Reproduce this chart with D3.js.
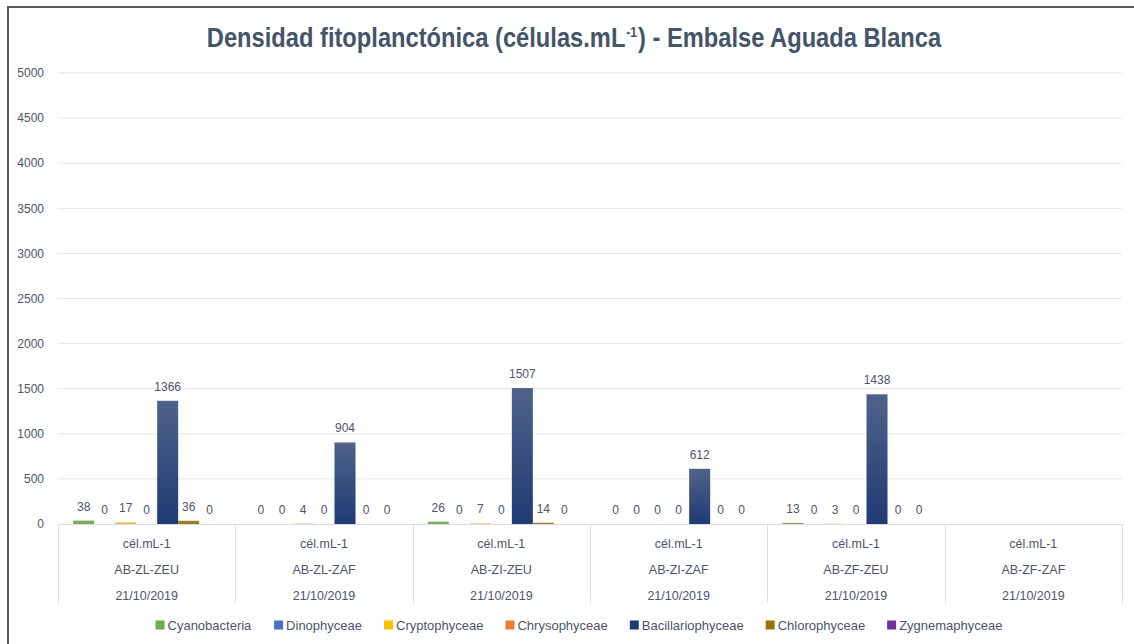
<!DOCTYPE html>
<html>
<head>
<meta charset="utf-8">
<script src="https://cdn.jsdelivr.net/npm/d3@7"></script>
<style>
  html, body { margin: 0; padding: 0; background: #fff; }
  text { font-family: "Liberation Sans Narrow", "Arial Narrow", "Liberation Sans", Arial, sans-serif; }
</style>
</head>
<body>
<div id="chart"></div>
<script>
// sites (x categories)
const sites = ["AB-ZL-ZEU", "AB-ZL-ZAF", "AB-ZI-ZEU", "AB-ZI-ZAF", "AB-ZF-ZEU", "AB-ZF-ZAF"];
const unitLabel = "cél.mL-1";
const sampleDate = "21/10/2019";

// series (phytoplankton groups)
const groups = ["Cyanobacteria", "Dinophyceae", "Cryptophyceae", "Chrysophyceae", "Bacillariophyceae", "Chlorophyceae", "Zygnemaphyceae"];
const groupColors = ["#70ad47", "#4472c4", "#ffc000", "#ed7d31", "#1f3b73", "#997300", "#7030a0"];

// values per series, one per site (null = no data)
const cyanobacteria     = [38, 0, 26, 0, 13, null];
const dinophyceae       = [0, 0, 0, 0, 0, null];
const cryptophyceae     = [17, 4, 7, 0, 3, null];
const chrysophyceae     = [0, 0, 0, 0, 0, null];
const bacillariophyceae = [1366, 904, 1507, 612, 1438, null];
const chlorophyceae     = [36, 0, 14, 0, 0, null];
const zygnemaphyceae    = [0, 0, 0, 0, 0, null];

const seriesValues = [cyanobacteria, dinophyceae, cryptophyceae, chrysophyceae, bacillariophyceae, chlorophyceae, zygnemaphyceae];
const yTicks = [0, 500, 1000, 1500, 2000, 2500, 3000, 3500, 4000, 4500, 5000];

const width = 1134, height = 644;
const plot = { left: 58, right: 1122, top: 73, bottom: 524 };
const textColor = "#4d5566";

const svg = d3.select("#chart").append("svg")
    .attr("width", width)
    .attr("height", height);

// outer frame
svg.append("rect")
    .attr("x", 8).attr("y", 7)
    .attr("width", 1140).attr("height", 700)
    .attr("fill", "none")
    .attr("stroke", "#595959")
    .attr("stroke-width", 2);

// title, squeezed horizontally to mimic the narrow bold face
const titleG = svg.append("g");
const title = titleG.append("text")
    .attr("x", 0)
    .attr("y", 47)
    .attr("text-anchor", "middle")
    .attr("font-size", "27px")
    .attr("font-weight", "bold")
    .attr("fill", "#44546a");
title.append("tspan").text("Densidad fitoplanctónica (células.mL");
title.append("tspan").attr("dy", -10).attr("dx", 1).attr("font-size", "14px").text("-1");
title.append("tspan").attr("dy", 10).attr("dx", 1).text(") - Embalse Aguada Blanca");
const squeeze = 733 / title.node().getComputedTextLength();
titleG.attr("transform", `translate(574,0) scale(${squeeze},1)`);

// scales
const y = d3.scaleLinear().domain([0, 5000]).range([plot.bottom, plot.top]);
const x0 = d3.scaleBand().domain(sites).range([plot.left, plot.right]).padding(0);
const x1 = d3.scaleBand().domain(groups).range([0, x0.bandwidth()]).paddingInner(0).paddingOuter(0.72);
const color = d3.scaleOrdinal().domain(groups).range(groupColors);

// gradients
const defs = svg.append("defs");
groups.forEach((g, i) => {
    const grad = defs.append("linearGradient")
        .attr("id", "grad" + i)
        .attr("x1", 0).attr("y1", 0).attr("x2", 0).attr("y2", 1);
    grad.append("stop").attr("offset", "0%").attr("stop-color", d3.interpolateRgb(groupColors[i], "#a9abb8")(0.35));
    grad.append("stop").attr("offset", "100%").attr("stop-color", groupColors[i]);
});

// gridlines
svg.append("g")
    .selectAll("line")
    .data(yTicks.filter(t => t > 0))
    .enter()
    .append("line")
    .attr("x1", plot.left).attr("x2", plot.right)
    .attr("y1", d => y(d)).attr("y2", d => y(d))
    .attr("stroke", "#e3e6ec")
    .attr("stroke-width", 1);

// y axis labels
svg.append("g")
    .selectAll("text")
    .data(yTicks)
    .enter()
    .append("text")
    .attr("x", 44)
    .attr("y", d => y(d))
    .attr("dy", "0.35em")
    .attr("text-anchor", "end")
    .attr("font-size", "12px")
    .attr("fill", textColor)
    .text(d => d);

// bars
const barData = [];
sites.forEach((s, si) => {
    groups.forEach((g, gi) => {
        const v = seriesValues[gi][si];
        if (v !== null) barData.push({ site: s, group: g, gi, value: v });
    });
});

const barG = svg.append("g");
barG.selectAll("rect")
    .data(barData.filter(d => d.value > 0))
    .enter()
    .append("rect")
    .attr("x", d => x0(d.site) + x1(d.group))
    .attr("y", d => y(d.value))
    .attr("width", x1.bandwidth())
    .attr("height", d => y(0) - y(d.value))
    .attr("fill", d => `url(#grad${d.gi})`);

// value labels
barG.selectAll("text")
    .data(barData)
    .enter()
    .append("text")
    .attr("x", d => x0(d.site) + x1(d.group) + x1.bandwidth() / 2)
    .attr("y", d => y(d.value) - 10)
    .attr("text-anchor", "middle")
    .attr("font-size", "12px")
    .attr("fill", textColor)
    .text(d => d.value);

// x axis: baseline + category table
const axisColor = "#d9dde5";
svg.append("line")
    .attr("x1", plot.left).attr("x2", plot.right)
    .attr("y1", plot.bottom + 0.5).attr("y2", plot.bottom + 0.5)
    .attr("stroke", axisColor);

const bounds = sites.map(s => x0(s)).concat([plot.right]);
svg.append("g")
    .selectAll("line")
    .data(bounds)
    .enter()
    .append("line")
    .attr("x1", d => Math.round(d) + 0.5).attr("x2", d => Math.round(d) + 0.5)
    .attr("y1", plot.bottom).attr("y2", 603)
    .attr("stroke", axisColor);

const catG = svg.append("g")
    .selectAll("g")
    .data(sites)
    .enter()
    .append("g")
    .attr("transform", d => `translate(${x0(d) + x0.bandwidth() / 2},0)`);

[[unitLabel, 547.5], [null, 573.5], [sampleDate, 599.5]].forEach(([lbl, yy]) => {
    catG.append("text")
        .attr("y", yy)
        .attr("text-anchor", "middle")
        .attr("font-size", "12.5px")
        .attr("fill", textColor)
        .text(d => lbl === null ? d : lbl);
});

// legend
const legend = svg.append("g").attr("transform", "translate(0,625)");
const items = legend.selectAll("g")
    .data(groups)
    .enter()
    .append("g");
items.append("rect")
    .attr("y", -4.5)
    .attr("width", 9).attr("height", 9)
    .attr("fill", d => color(d));
items.append("text")
    .attr("x", 12)
    .attr("dy", "0.35em")
    .attr("font-size", "13px")
    .attr("fill", textColor)
    .text(d => d);

// lay out legend items centred
let widths = [];
items.each(function () { widths.push(this.getBBox().width); });
const gap = 22;
const total = d3.sum(widths) + gap * (widths.length - 1);
let cx = 579 - total / 2;
items.attr("transform", (d, i) => {
    const t = `translate(${cx},0)`;
    cx += widths[i] + gap;
    return t;
});
</script>
</body>
</html>
